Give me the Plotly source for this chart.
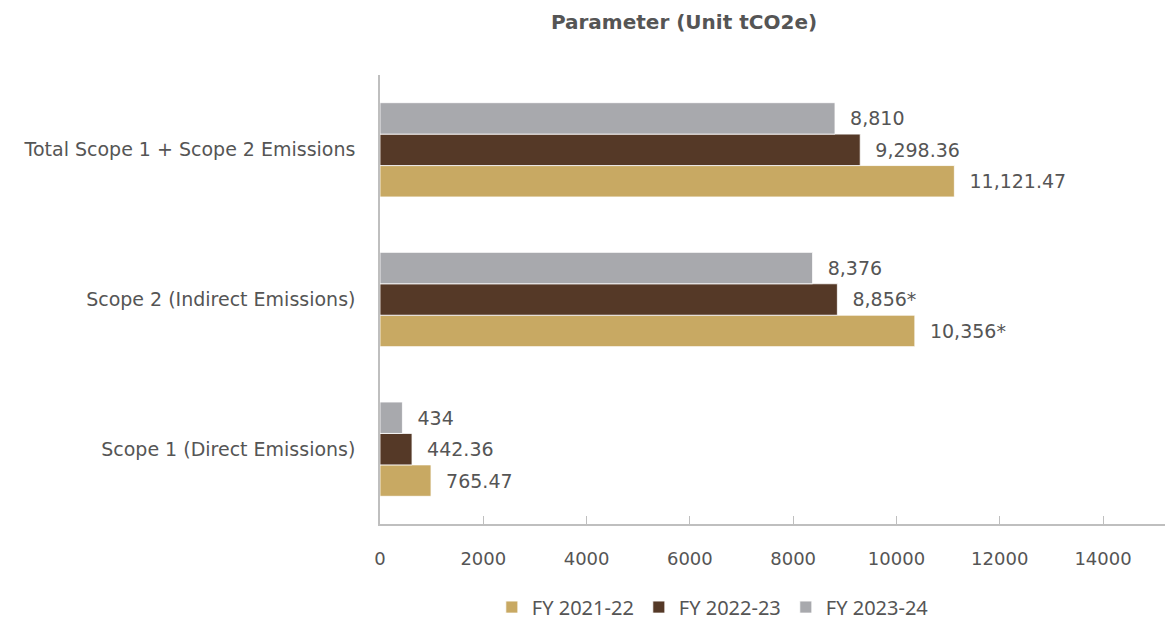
import plotly.graph_objects as go

categories = ["Scope 1 (Direct Emissions)", "Scope 2 (Indirect Emissions)", "Total Scope 1 + Scope 2 Emissions"]
series_names = ["FY 2021-22", "FY 2022-23", "FY 2023-24"]
# bar lengths as drawn in the picture
fy2122_values = [988, 10356, 11121.47]
fy2223_values = [620, 8856, 9298.36]
fy2324_values = [434, 8376, 8810]
# printed data labels
fy2122_labels = ["765.47", "10,356*", "11,121.47"]
fy2223_labels = ["442.36", "8,856*", "9,298.36"]
fy2324_labels = ["434", "8,376", "8,810"]
x_ticks = [0, 2000, 4000, 6000, 8000, 10000, 12000, 14000]

colors = ["#C8A963", "#553927", "#A8A9AD"]
font_family = "DejaVu Sans"
text_color = "#555555"

fig = go.Figure()
for name, vals, labels, col in zip(series_names,
                                   [fy2122_values, fy2223_values, fy2324_values],
                                   [fy2122_labels, fy2223_labels, fy2324_labels],
                                   colors):
    fig.add_trace(go.Bar(
        y=categories, x=vals, name=name, orientation="h",
        marker=dict(color=col, line=dict(color="white", width=0.8)),
        text=["\u00a0\u00a0" + t for t in labels],
        textposition="outside", cliponaxis=False,
        textfont=dict(family=font_family, size=19, color=text_color),
        hoverinfo="x+name",
    ))

# page body has an 8px margin, so the figure is 8px smaller than the window
W, H = 1168, 613
fig.update_layout(
    width=W, height=H,
    paper_bgcolor="white", plot_bgcolor="white",
    barmode="group", bargap=0.37, bargroupgap=0.0,
    margin=dict(l=372, r=11, t=67, b=97, autoexpand=False),
    font=dict(family=font_family, color=text_color),
    title=dict(text="<b>Parameter (Unit tCO2e)</b>", x=(684 - 8) / W, xanchor="center",
               y=1 - 14 / H, yanchor="middle", yref="container",
               font=dict(family=font_family, size=20, color=text_color)),
    legend=dict(orientation="h", x=0.424, xanchor="center", y=-0.185, yanchor="middle",
                traceorder="normal",
                font=dict(family="Noto Sans", size=20, color=text_color),
                itemwidth=30),
    showlegend=True,
)
fig.update_xaxes(range=[0, 15200], tickvals=x_ticks, ticktext=[str(v) for v in x_ticks],
                 automargin=False,
                 showgrid=False, zeroline=False, showline=True, linecolor="#BFBFBF", linewidth=1.5,
                 ticks="inside", ticklen=8, tickcolor="#BFBFBF", ticklabelstandoff=18,
                 tickfont=dict(family=font_family, size=18, color=text_color))
fig.update_yaxes(showgrid=False, showline=True, linecolor="#BFBFBF", linewidth=1.5,
                 automargin=False,
                 ticks="", ticklabelstandoff=19,
                 tickfont=dict(family=font_family, size=19, color=text_color))

fig.write_html("out.html")
